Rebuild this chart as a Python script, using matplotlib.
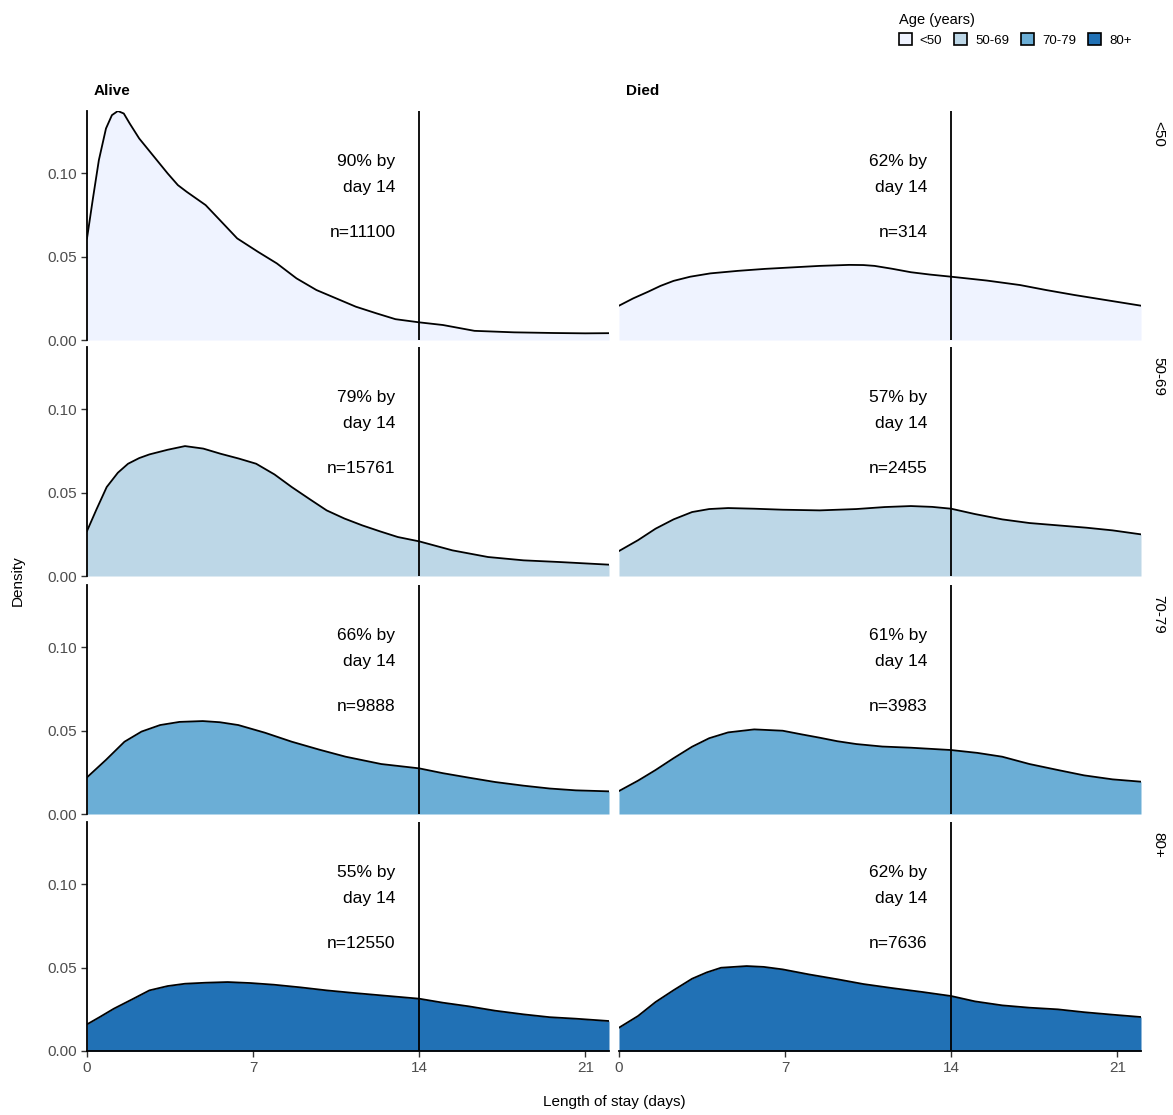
import numpy as np
import matplotlib.pyplot as plt
from matplotlib.patches import Patch

plt.rcParams['font.family'] = ['Liberation Sans', 'DejaVu Sans']

# Age groups (rows) and outcome (columns)
age_groups = ['<50', '50-69', '70-79', '80+']
outcomes = ['Alive', 'Died']
fill_colors = ['#eff3ff', '#bdd7e7', '#6baed6', '#2171b5']

# density curves: (days, density)
alive_lt50_x = [0, 0.25, 0.5, 0.8, 1.05, 1.3, 1.55, 1.8, 2.2, 2.6, 3.0, 3.4, 3.83, 4.2, 4.5, 5.0, 5.6, 6.33,
                7.2, 8.0, 8.83, 9.67, 10.5, 11.33, 12.2, 13.0, 14, 15, 16.33, 18, 19.67, 21, 22]
alive_lt50_y = [0.061, 0.085, 0.108, 0.127, 0.135, 0.1375, 0.136, 0.130, 0.121, 0.114, 0.107, 0.100, 0.093,
                0.089, 0.086, 0.081, 0.072, 0.061, 0.053, 0.046, 0.037, 0.030, 0.025, 0.020, 0.016, 0.0125,
                0.0106, 0.009, 0.0055, 0.0046, 0.0042, 0.004, 0.0041]
died_lt50_x = [0, 0.6, 1.23, 1.75, 2.3, 3.0, 3.85, 5.0, 6.15, 7.3, 8.46, 9.7, 10.3, 10.77, 11.5, 12.3, 13.1,
               14, 15.5, 16.9, 18.0, 19.2, 20.6, 22]
died_lt50_y = [0.0206, 0.025, 0.029, 0.0325, 0.0355, 0.038, 0.040, 0.0415, 0.0427, 0.0436, 0.0445, 0.0451,
               0.045, 0.0445, 0.0428, 0.0407, 0.0393, 0.038, 0.0357, 0.033, 0.030, 0.027, 0.0238, 0.0206]

alive_50_69_x = [0, 0.4, 0.83, 1.3, 1.73, 2.2, 2.63, 3.4, 4.13, 4.9, 5.63, 6.4, 7.13, 7.9, 8.63, 9.4, 10.1,
                 10.85, 11.6, 12.35, 13.1, 14, 15.4, 16.9, 18.4, 19.9, 22]
alive_50_69_y = [0.027, 0.040, 0.0534, 0.062, 0.0674, 0.0708, 0.073, 0.0758, 0.078, 0.0765, 0.0734, 0.0705,
                 0.0674, 0.061, 0.0534, 0.046, 0.0394, 0.0345, 0.0304, 0.0268, 0.0234, 0.0208, 0.0154, 0.0114,
                 0.0094, 0.0084, 0.0068]
died_50_69_x = [0, 0.8, 1.54, 2.3, 3.08, 3.8, 4.6, 5.7, 6.9, 8.46, 10.0, 11.2, 12.3, 13.2, 14, 15.0, 16.15,
                17.3, 18.5, 19.7, 20.8, 22]
died_50_69_y = [0.015, 0.0215, 0.0284, 0.034, 0.0384, 0.0402, 0.0408, 0.0404, 0.0398, 0.0394, 0.0402, 0.0414,
                0.042, 0.0415, 0.0404, 0.0372, 0.034, 0.0318, 0.0304, 0.029, 0.0274, 0.025]

alive_70_79_x = [0, 0.8, 1.58, 2.3, 3.08, 3.9, 4.88, 5.6, 6.38, 7.5, 8.63, 9.8, 10.9, 12.4, 14, 15.0, 16.1,
                 17.2, 18.4, 19.5, 20.6, 22]
alive_70_79_y = [0.022, 0.0325, 0.0434, 0.0495, 0.0534, 0.0553, 0.0558, 0.0551, 0.0534, 0.0488, 0.0434,
                 0.0386, 0.0344, 0.030, 0.0274, 0.0245, 0.0218, 0.0192, 0.017, 0.0153, 0.0142, 0.0136]
died_70_79_x = [0, 0.8, 1.54, 2.3, 3.08, 3.8, 4.6, 5.7, 6.9, 7.7, 8.46, 9.2, 10.0, 11.1, 12.3, 14, 15.1,
                16.15, 17.3, 18.5, 19.6, 20.8, 22]
died_70_79_y = [0.0138, 0.020, 0.0264, 0.0335, 0.0404, 0.0455, 0.049, 0.0508, 0.050, 0.0478, 0.0458, 0.0437,
                0.042, 0.0405, 0.0398, 0.0384, 0.0367, 0.0344, 0.030, 0.0264, 0.0232, 0.0208, 0.0194]

alive_80_x = [0, 0.55, 1.13, 1.9, 2.63, 3.4, 4.13, 5.0, 5.93, 6.9, 7.88, 9.0, 10.1, 11.2, 12.4, 14, 15.0,
              16.1, 17.2, 18.4, 19.5, 20.6, 22]
alive_80_y = [0.016, 0.0205, 0.0254, 0.031, 0.0364, 0.039, 0.0404, 0.041, 0.0414, 0.0408, 0.0398, 0.0382,
              0.0364, 0.0349, 0.0334, 0.0314, 0.029, 0.0268, 0.0242, 0.022, 0.0203, 0.0194, 0.018]
died_80_x = [0, 0.8, 1.54, 2.3, 3.08, 3.7, 4.3, 5.38, 6.1, 6.9, 8.0, 9.23, 10.3, 11.5, 12.8, 14, 15.0, 16.15,
             17.3, 18.5, 19.6, 20.8, 22]
died_80_y = [0.014, 0.021, 0.0294, 0.0365, 0.0434, 0.0472, 0.050, 0.051, 0.0505, 0.049, 0.046, 0.043, 0.0402,
             0.0378, 0.0354, 0.033, 0.0298, 0.0274, 0.026, 0.025, 0.0233, 0.0218, 0.0204]

curves = [
    [(alive_lt50_x, alive_lt50_y), (died_lt50_x, died_lt50_y)],
    [(alive_50_69_x, alive_50_69_y), (died_50_69_x, died_50_69_y)],
    [(alive_70_79_x, alive_70_79_y), (died_70_79_x, died_70_79_y)],
    [(alive_80_x, alive_80_y), (died_80_x, died_80_y)],
]

pct_by_day14 = [[90, 62], [79, 57], [66, 61], [55, 62]]
n_counts = [[11100, 314], [15761, 2455], [9888, 3983], [12550, 7636]]

W, H = 1173, 1115
fig = plt.figure(figsize=(W / 100, H / 100), dpi=100)

col_left = [87, 619]
col_w = 522
row_top = [111, 347, 585, 822]
row_h = 229

grey = '#4d4d4d'
for r in range(4):
    for c in range(2):
        ax = fig.add_axes([col_left[c] / W, 1 - (row_top[r] + row_h) / H, col_w / W, row_h / H])
        xs, ys = curves[r][c]
        ax.fill_between(xs, 0, ys, color=fill_colors[r], lw=0)
        ax.plot(xs, ys, color='black', lw=1.3, solid_joinstyle='round')
        ax.axvline(14, color='black', lw=1.3)
        ax.set_xlim(0, 22)
        ax.set_ylim(0, 0.1375)
        for s in ['top', 'right']:
            ax.spines[s].set_visible(False)
        ax.spines['left'].set_visible(c == 0)
        ax.spines['bottom'].set_visible(r == 3)
        for s in ['left', 'bottom']:
            ax.spines[s].set_linewidth(1.3)
        ax.set_xticks([0, 7, 14, 21])
        ax.set_yticks([0, 0.05, 0.10])
        ax.tick_params(colors='#333333', labelcolor=grey, labelsize=11, length=4, width=1)
        if c == 0:
            ax.set_yticklabels(['0.00', '0.05', '0.10'])
        else:
            ax.tick_params(axis='y', left=False, labelleft=False)
        if r != 3:
            ax.tick_params(axis='x', bottom=False, labelbottom=False)
        ax.text(13.0, 0.107, f'{pct_by_day14[r][c]}% by', ha='right', va='center', fontsize=12.5)
        ax.text(13.0, 0.0915, 'day 14', ha='right', va='center', fontsize=12.5)
        ax.text(13.0, 0.0645, f'n={n_counts[r][c]}', ha='right', va='center', fontsize=12.5)
        if r == 0:
            ax.text(7 / col_w, 1 + 20 / row_h, outcomes[c], transform=ax.transAxes,
                    ha='left', va='center', fontsize=11, fontweight='bold')
        if c == 1:
            ax.text(1 + 17 / col_w, 1 - 10 / row_h, age_groups[r], transform=ax.transAxes,
                    ha='center', va='top', rotation=270, fontsize=11)

fig.text(18 / W, 1 - 581 / H, 'Density', rotation=90, ha='center', va='center', fontsize=11)
fig.text(614 / W, 1 - 1102 / H, 'Length of stay (days)', ha='center', va='center', fontsize=11)

handles = [Patch(facecolor=col, edgecolor='black', lw=1.2) for col in fill_colors]
fig.legend(handles, age_groups, ncol=4, loc='upper left', bbox_to_anchor=(888 / W, 1 - 2 / H),
           frameon=False, title='Age (years)', alignment='left', fontsize=9.5, title_fontsize=10.5,
           handlelength=1.0, handleheight=1.0, handletextpad=0.6, columnspacing=0.9, borderpad=0.3)

fig.savefig('out.png', dpi=100)
